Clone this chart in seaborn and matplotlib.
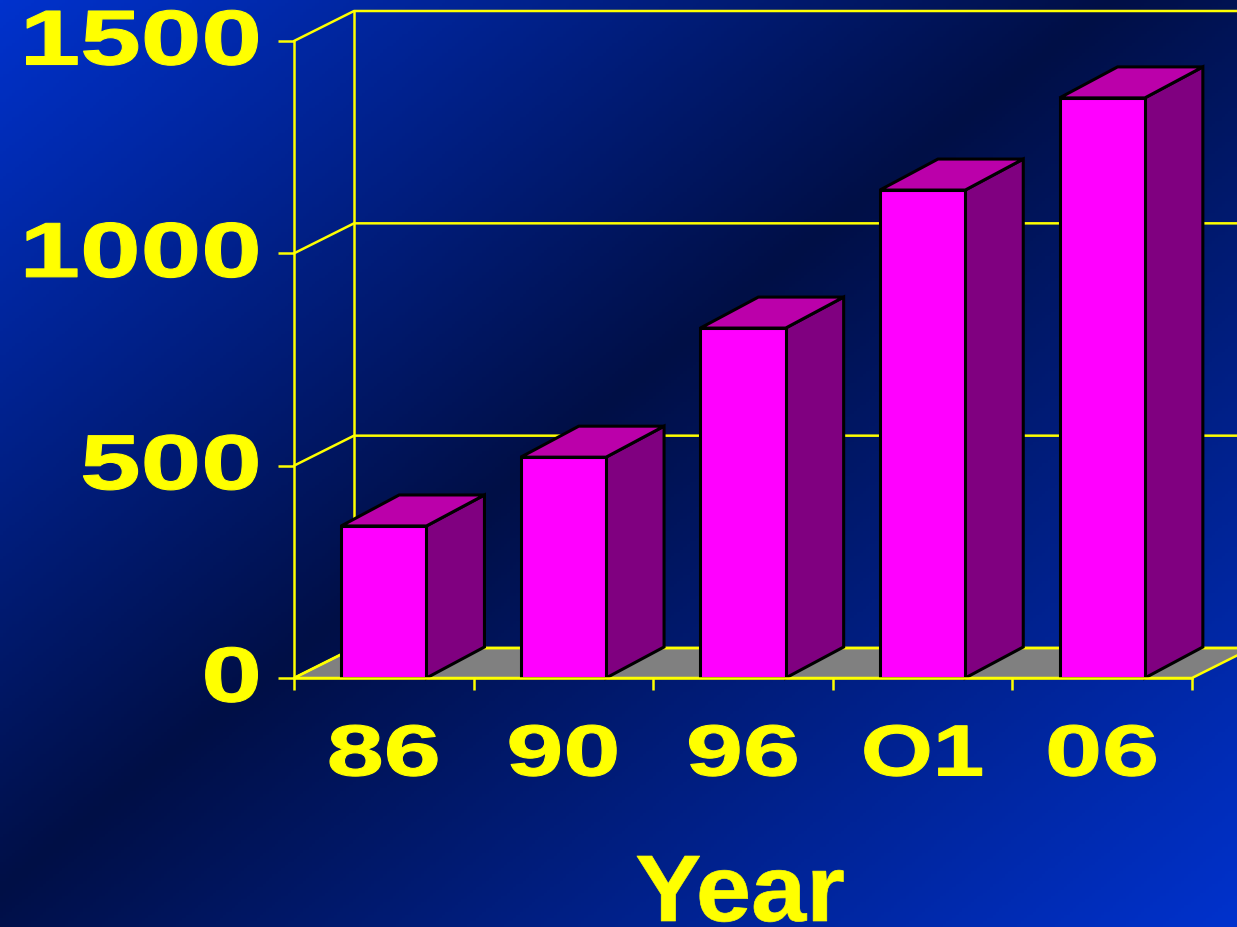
import numpy as np
import pandas as pd
import matplotlib
matplotlib.use("Agg")
import matplotlib.pyplot as plt
import matplotlib.patheffects as pe
from matplotlib.transforms import Affine2D
import seaborn as sns

# ── Data ────────────────────────────────────────────────
years  = ["86", "90", "96", "O1", "06"]
values = [358, 520, 824, 1149, 1366]
yticks = [0, 500, 1000, 1500]

YELLOW = "#FFFF00"
W, H = 1237, 927


class Stretch(pe.AbstractPathEffect):
    # wide heavy lettering: scale the glyphs in x around a pixel column
    def __init__(self, sx, anchor, up=0, stroke=0.8):
        super().__init__()
        self.sx = sx
        self.anchor = anchor
        self.up = up
        self.stroke = stroke

    def draw_path(self, renderer, gc, tpath, affine, rgbFace=None):
        extra = (Affine2D().translate(-self.anchor, 0).scale(self.sx, 1)
                 .translate(self.anchor, self.up))
        gc2 = renderer.new_gc()
        gc2.copy_properties(gc)
        gc2.set_foreground(YELLOW)
        gc2.set_linewidth(self.stroke)
        renderer.draw_path(gc2, tpath, affine + extra, rgbFace)
        gc2.restore()


sns.set_theme(style="white")
plt.rcParams["font.family"] = ["Liberation Sans", "DejaVu Sans"]
plt.rcParams["font.weight"] = "bold"

fig = plt.figure(figsize=(W / 100, H / 100), dpi=100)

# ── Diagonal background ─────────────────────────────────
bg = fig.add_axes([0, 0, 1, 1], zorder=0)
xx, yy = np.meshgrid(np.linspace(0, W, 400), np.linspace(0, H, 300))
s = 0.8 * xx + yy - 890
t = np.where(s < 0, -s / 890, s / 1027)
dark = np.array([0, 15, 70]) / 255
light = np.array([0, 50, 205]) / 255
bg.imshow(dark + (light - dark) * t[..., None], aspect="auto", extent=[0, 1, 0, 1], origin="upper")
bg.axis("off")

# ── Main axes, placed on the front plane ────────────────
ax = fig.add_axes([294 / W, 1 - 678 / H, 898 / W, 637 / H], zorder=1)
ax.patch.set_alpha(0)
df = pd.DataFrame({"year": years, "value": values})

# 3D depth in data units
dx = 60 / (898 / 5)
dy = 30 / (637 / 1500)
x0, x1 = -0.5, 4.5
LW = 1.8

# floor and walls
ax.fill([x0, x0 + dx, x1 + dx, x1], [0, dy, dy, 0], fc="#808080", lw=LW,
        ec=YELLOW, clip_on=False, zorder=1)
for v in yticks:
    ax.plot([x0, x0 + dx, x1 + dx + 1], [v, v + dy, v + dy], color=YELLOW, lw=LW,
            clip_on=False, zorder=1)
ax.plot([x0 + dx, x0 + dx], [dy, 1500 + dy], color=YELLOW, lw=LW, clip_on=False, zorder=1)

# front faces
bar_w = 0.475
sns.barplot(data=df, x="year", y="value", color="#FF00FF", saturation=1, width=bar_w,
            edgecolor="black", linewidth=2.2, ax=ax, zorder=3)

# side and top faces
bw = bar_w / 2
side_dx, side_dy = 58 / (898 / 5), 31 / (637 / 1500)
for i, v in enumerate(values):
    ax.fill([i + bw, i + bw + side_dx, i + bw + side_dx, i + bw],
            [0, side_dy, v + side_dy, v], fc="#800080", ec="black", lw=2.2, zorder=2.5, clip_on=False)
    ax.fill([i - bw, i - bw + side_dx, i + bw + side_dx, i + bw],
            [v, v + side_dy, v + side_dy, v], fc="#BB00AA", ec="black", lw=2.2, zorder=2.5, clip_on=False)

ax.set_xlim(x0, x1)
ax.set_ylim(0, 1500)
ax.set_xticks(np.arange(6) - 0.5)
ax.set_xticklabels([])
ax.set_xticks(range(5), labels=years, minor=True)
ax.set_yticks(yticks)
ax.set_yticklabels([str(v) for v in yticks], color=YELLOW, fontsize=56, fontweight="bold")
ax.set_ylabel("")
sns.despine(ax=ax, top=True, right=True)
for side in ("left", "bottom"):
    ax.spines[side].set_color(YELLOW)
    ax.spines[side].set_linewidth(LW)
    ax.spines[side].set_zorder(5)

ax.tick_params(axis="y", color=YELLOW, length=11.5, width=LW, pad=11.5, left=True)
ax.tick_params(axis="x", which="major", color=YELLOW, length=8.6, width=LW, bottom=True)
ax.tick_params(axis="x", which="minor", length=0, pad=32, labelsize=52, labelcolor=YELLOW, bottom=True)

# tick labels are plain text, only widened on drawing
for lab in ax.get_yticklabels():
    lab.set_path_effects([Stretch(1.4, 262, up=5)])
for i, lab in enumerate(ax.get_xticklabels(minor=True)):
    lab.set_fontweight("bold")
    sx = 1.28 if years[i] == "O1" else 1.42
    lab.set_path_effects([Stretch(sx, ax.transData.transform((i, 0))[0])])

ylab = ax.set_xlabel("Year", color=YELLOW, fontsize=68, fontweight="bold")
ylab.set_path_effects([Stretch(1.05, 740, up=-2, stroke=0.5)])
ax.xaxis.set_label_coords(0.4967, -0.27)

fig.savefig("out.png", dpi=100)
